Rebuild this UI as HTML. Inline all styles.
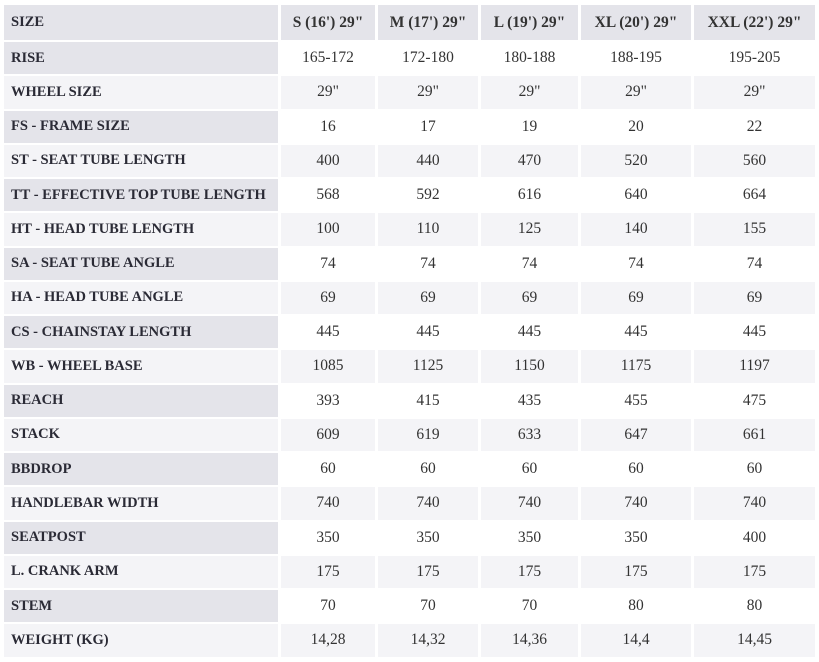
<!DOCTYPE html>
<html><head><style>
body{margin:0;width:819px;height:662px;background:#fff;overflow:hidden;font-family:"Liberation Serif",serif;}
.g{position:absolute;left:4px;top:5px;display:grid;grid-template-columns:274px 94px 100px 97px 110px 121px;grid-template-rows:35px repeat(18,32.25px);gap:2px 3px;}
.g div{display:flex;align-items:center;justify-content:center;font-size:15.5px;color:#333;}
.g div.l{justify-content:flex-start;padding-left:7px;font-weight:bold;font-size:14.5px;color:#2a2a35;}
.h{background:#e4e4ea;font-weight:bold;}
.d{background:#e4e4ea}.e{background:#f4f4f7}.w{background:#fff}
</style></head><body>
<div class="g" id="g"></div>
<script>
const rows=[["SIZE","S (16') 29\"","M (17') 29\"","L (19') 29\"","XL (20') 29\"","XXL (22') 29\""],
["RISE","165-172","172-180","180-188","188-195","195-205"],
["WHEEL SIZE","29\"","29\"","29\"","29\"","29\""],
["FS - FRAME SIZE","16","17","19","20","22"],
["ST - SEAT TUBE LENGTH","400","440","470","520","560"],
["TT - EFFECTIVE TOP TUBE LENGTH","568","592","616","640","664"],
["HT - HEAD TUBE LENGTH","100","110","125","140","155"],
["SA - SEAT TUBE ANGLE","74","74","74","74","74"],
["HA - HEAD TUBE ANGLE","69","69","69","69","69"],
["CS - CHAINSTAY LENGTH","445","445","445","445","445"],
["WB - WHEEL BASE","1085","1125","1150","1175","1197"],
["REACH","393","415","435","455","475"],
["STACK","609","619","633","647","661"],
["BBDROP","60","60","60","60","60"],
["HANDLEBAR WIDTH","740","740","740","740","740"],
["SEATPOST","350","350","350","350","400"],
["L. CRANK ARM","175","175","175","175","175"],
["STEM","70","70","70","80","80"],
["WEIGHT (KG)","14,28","14,32","14,36","14,4","14,45"]];
let h="";
rows.forEach((r,i)=>{r.forEach((c,j)=>{let cls;
if(i==0)cls="h"+(j==0?" l":"");
else if(j==0)cls=(i%2?"d":"e")+" l";
else cls=i%2?"w":"e";
h+=`<div class="${cls}">${c.replace(/"/g,'&quot;')}</div>`;});});
document.getElementById("g").innerHTML=h;
</script>
</body></html>
